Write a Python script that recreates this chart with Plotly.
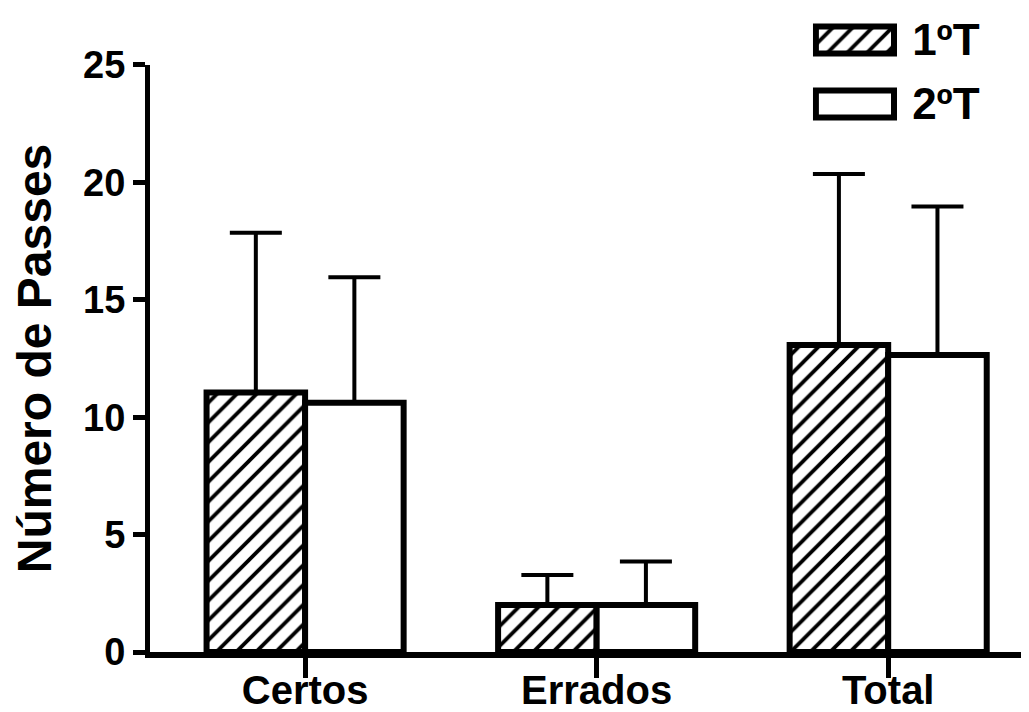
import plotly.graph_objects as go

# values
categories = ["Certos", "Errados", "Total"]
half1 = [11.05, 2.0, 13.07]
half1_sd = [6.81, 1.28, 7.29]
half2 = [10.62, 2.0, 12.65]
half2_sd = [5.34, 1.85, 6.32]
series_names = ["1ºT", "2ºT"]
y_ticks = [0, 5, 10, 15, 20, 25]

FONT = "Liberation Sans, Arial, sans-serif"

hatch = dict(shape="/", size=14, solidity=0.27, fgcolor="black", fgopacity=1, bgcolor="white")
plain = dict(shape="")

fig = go.Figure()

# main grouped bars with upward-only SD bars
for name, vals, sd, patt in [
    (series_names[0], half1, half1_sd, hatch),
    (series_names[1], half2, half2_sd, plain),
]:
    fig.add_trace(
        go.Bar(
            name=name,
            x=categories,
            y=vals,
            marker=dict(color="white", pattern=patt, line=dict(color="black", width=6)),
            error_y=dict(
                type="data",
                symmetric=False,
                array=sd,
                arrayminus=[0] * len(sd),
                color="black",
                thickness=4,
                width=26,
            ),
            showlegend=False,
        )
    )

# legend keys drawn as bars on a small helper axis (top-right)
for name, patt in [(series_names[0], hatch), (series_names[1], plain)]:
    fig.add_trace(
        go.Bar(
            x=[1],
            y=[name],
            orientation="h",
            width=0.42,
            xaxis="x2",
            yaxis="y2",
            marker=dict(color="white", pattern=patt, line=dict(color="black", width=6)),
            showlegend=False,
            hoverinfo="skip",
        )
    )

# page body adds an 8px offset, so the figure is sized to the visible area
fig.update_layout(
    width=1021,
    height=704,
    margin=dict(l=142, r=0, t=0, b=60),
    paper_bgcolor="white",
    plot_bgcolor="white",
    barmode="group",
    bargap=0.324,
    bargroupgap=0,
    font=dict(family=FONT, color="black", size=38, weight="bold"),
    xaxis=dict(
        type="category",
        range=[-0.532, 2.483],
        automargin=False,
        showline=True,
        linecolor="black",
        linewidth=6,
        ticks="outside",
        ticklen=20,
        tickwidth=5,
        tickcolor="black",
        ticklabelstandoff=-22,
        tickfont=dict(size=40, family=FONT, weight="bold"),
        showgrid=False,
        zeroline=False,
        anchor="y",
    ),
    yaxis=dict(
        domain=[0, 0.9115],
        range=[0, 25],
        tickvals=y_ticks,
        automargin=False,
        showline=True,
        linecolor="black",
        linewidth=5,
        ticks="outside",
        ticklen=12,
        tickwidth=5,
        tickcolor="black",
        tickfont=dict(size=38, family=FONT, weight="bold"),
        showgrid=False,
        zeroline=False,
        title=dict(
            text="Número de Passes",
            font=dict(size=48, family=FONT, weight="bold"),
            standoff=22,
        ),
        anchor="x",
    ),
    xaxis2=dict(
        domain=[0.754, 0.850],
        range=[-0.04, 1.04],
        visible=False,
        anchor="y2",
    ),
    yaxis2=dict(
        domain=[0.8012, 1.0],
        type="category",
        categoryorder="array",
        categoryarray=series_names,
        autorange="reversed",
        side="right",
        anchor="x2",
        automargin=False,
        showline=False,
        showgrid=False,
        zeroline=False,
        ticks="",
        ticklabelstandoff=14,
        tickfont=dict(size=44, family=FONT, weight="bold"),
    ),
)

fig.write_html("out.html")
